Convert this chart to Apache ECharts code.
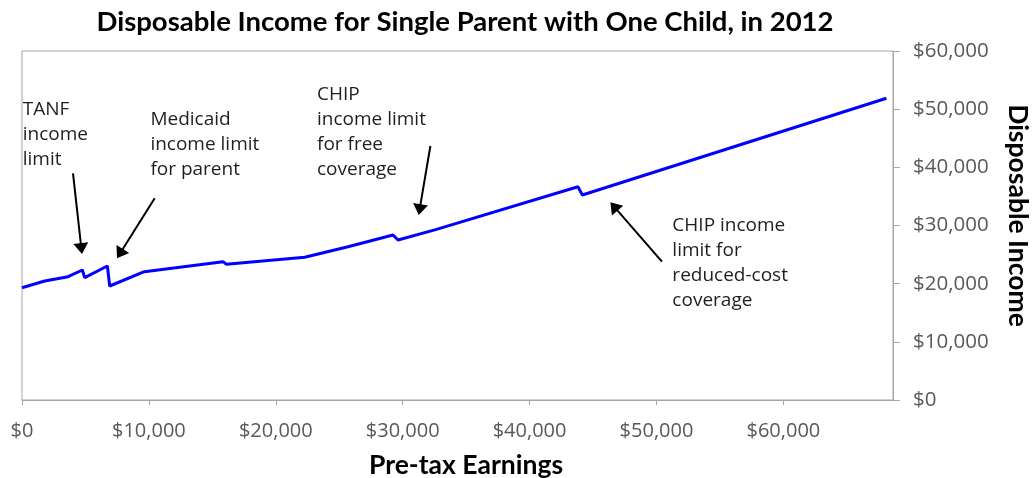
<!DOCTYPE html>
<html>
<head>
<meta charset="utf-8">
<script src="https://cdn.jsdelivr.net/npm/echarts@6/dist/echarts.min.js"></script>
<style>
html,body{margin:0;padding:0;background:#fff;}
#c{width:1032px;height:478px;}
</style>
</head>
<body>
<div id="c"></div>
<script>
// ---- data ----
const chartTitle = 'Disposable Income for Single Parent with One Child, in 2012';
const xAxisName = 'Pre-tax Earnings';
const yAxisName = 'Disposable Income';
const earnings = [0, 1790, 3630, 4760, 4940, 6730, 6910, 9640, 15840, 16110, 22280, 25690, 29240, 29630, 32600, 43810, 44160, 68120];
const income   = [19300, 20460, 21200, 22350, 21030, 23040, 19600, 22060, 23780, 23330, 24530, 26350, 28370, 27510, 29290, 36670, 35240, 51870];
const xTicks = [0, 10000, 20000, 30000, 40000, 50000, 60000];
const xMax = 68640;
const noteTexts = [
  ['TANF', 'income', 'limit'],
  ['Medicaid', 'income limit', 'for parent'],
  ['CHIP', 'income limit', 'for free', 'coverage'],
  ['CHIP income', 'limit for', 'reduced-cost', 'coverage']
];
// annotation anchors in data units: text [x,y], arrow from [x,y] to tip [x,y]
const noteTextAt = [[55, 49850], [10118, 48135], [23247, 52519], [51253, 29998]];
const arrowFrom  = [[4019, 38972], [10457, 34674], [32183, 43665], [50433, 23775]];
const arrowTip   = [[4728, 25099], [7486, 24360], [31261, 31803], [46367, 33987]];

const fmt = v => '$' + Number(v).toLocaleString('en-US');

const chart = echarts.init(document.getElementById('c'), null, {renderer: 'canvas'});
const AXIS_GRAY = '#a6a6a6';
const LABEL_GRAY = '#595959';
const FONT = '"Open Sans", sans-serif';
const BOLD = 'Lato, "Open Sans", sans-serif';

chart.setOption({
  animation: false,
  backgroundColor: '#ffffff',
  title: {
    text: chartTitle,
    left: 460, top: 3, textAlign: 'center',
    textStyle: {fontFamily: BOLD, fontWeight: 'bold', fontSize: 27.5, color: '#000'}
  },
  grid: {left: 22, right: 139, top: 51, bottom: 78, show: true, borderColor: AXIS_GRAY, borderWidth: 1,
         containLabel: false, outerBoundsMode: 'none'},
  xAxis: {
    type: 'value', min: 0, max: xMax, interval: 10000,
    name: xAxisName, nameLocation: 'middle', nameGap: 52,
    nameTextStyle: {fontFamily: BOLD, fontWeight: 'bold', fontSize: 26.5, color: '#000', padding: [0, 0, 0, 17]},
    axisLine: {show: true, onZero: false, lineStyle: {color: AXIS_GRAY, width: 1}},
    axisTick: {show: true, length: 5, lineStyle: {color: AXIS_GRAY}, customValues: xTicks},
    axisLabel: {customValues: xTicks, formatter: fmt, margin: 21, fontFamily: FONT, fontSize: 20, color: LABEL_GRAY},
    splitLine: {show: false}
  },
  yAxis: {
    type: 'value', position: 'right', min: 0, max: 60000, interval: 10000,
    name: yAxisName, nameLocation: 'middle', nameGap: 111, nameRotate: -90,
    nameTextStyle: {fontFamily: BOLD, fontWeight: 'bold', fontSize: 26.5, color: '#000', padding: [0, 20, 0, 0]},
    axisLine: {show: true, onZero: false, lineStyle: {color: AXIS_GRAY, width: 1}},
    axisTick: {show: true, inside: false, length: 7, lineStyle: {color: AXIS_GRAY}},
    axisLabel: {formatter: fmt, margin: 20, fontFamily: FONT, fontSize: 20.5, color: LABEL_GRAY},
    splitLine: {show: false}
  },
  series: [{
    type: 'line',
    data: earnings.map((e, i) => [e, income[i]]),
    showSymbol: false,
    lineStyle: {color: '#0000ff', width: 3},
    itemStyle: {color: '#0000ff'}
  }]
});

// annotations
const g = [];
const toPx = p => chart.convertToPixel({gridIndex: 0}, p);
noteTexts.forEach((lines, i) => {
  const p = toPx(noteTextAt[i]);
  g.push({
    type: 'text', x: p[0], y: p[1] - 12.5, silent: true,
    style: {text: lines.join('\n'), fontFamily: FONT, fontSize: 19, lineHeight: 25,
            fill: '#1f1f1f', align: 'left', verticalAlign: 'top'}
  });
  const a = toPx(arrowFrom[i]);
  const t = toPx(arrowTip[i]);
  const dx = t[0] - a[0], dy = t[1] - a[1];
  const len = Math.hypot(dx, dy);
  const ux = dx / len, uy = dy / len;
  const headLen = 11, headHalf = 7.5;
  const bx = t[0] - ux * headLen, by = t[1] - uy * headLen;
  g.push({
    type: 'line', silent: true,
    shape: {x1: a[0], y1: a[1], x2: bx + ux * 1, y2: by + uy * 1},
    style: {stroke: '#000', lineWidth: 2}
  });
  g.push({
    type: 'polygon', silent: true,
    shape: {points: [[t[0], t[1]], [bx - uy * headHalf, by + ux * headHalf], [bx + uy * headHalf, by - ux * headHalf]]},
    style: {fill: '#000'}
  });
});
chart.setOption({graphic: g});
</script>
</body>
</html>
